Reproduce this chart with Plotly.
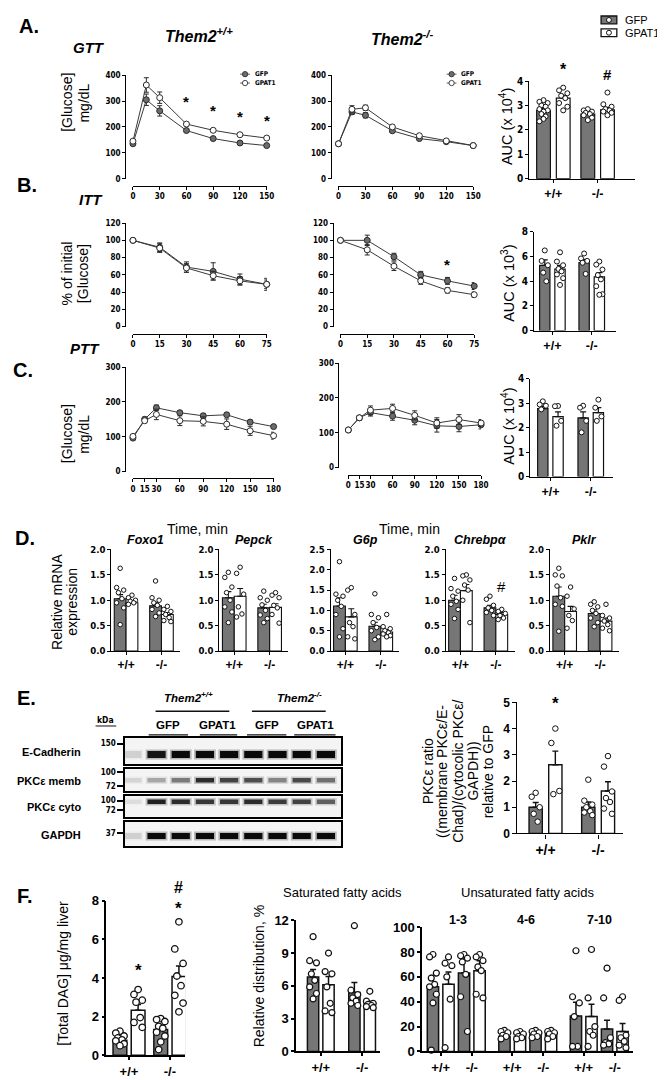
import plotly.graph_objects as go

W, H = 665, 1080
NARROW = "Liberation Sans Narrow, Arial Narrow, DejaVu Sans Condensed, sans-serif"
SANS = "Liberation Sans, Arial, Helvetica, sans-serif"
GRAY = "#767676"
DOTGRAY = "#6c6c6c"
INK = "#111111"

# ===================== DATA =====================
# A. GTT
gtt_time = [0, 15, 30, 60, 90, 120, 150]
gtt_wt_gfp = [135, 305, 262, 186, 155, 138, 128]
gtt_wt_gfp_sem = [6, 22, 20, 5, 5, 5, 5]
gtt_wt_gpat1 = [145, 362, 313, 211, 187, 170, 157]
gtt_wt_gpat1_sem = [6, 28, 22, 6, 5, 5, 5]
gtt_ko_gfp = [135, 258, 245, 185, 155, 143, 128]
gtt_ko_gfp_sem = [4, 10, 10, 6, 5, 4, 4]
gtt_ko_gpat1 = [135, 268, 274, 200, 166, 146, 128]
gtt_ko_gpat1_sem = [4, 14, 10, 6, 5, 4, 4]
gtt_star_t = [60, 90, 120, 150]
gtt_star_y = [297, 263, 240, 225]
gtt_auc_mean = [2.80, 3.30, 2.65, 2.82]
gtt_auc_sem = [0.08, 0.12, 0.05, 0.10]
gtt_auc_dots = [
    [3.22, 3.15, 3.1, 3.0, 2.95, 2.85, 2.8, 2.75, 2.65, 2.55, 2.45, 2.35],
    [3.73, 3.62, 3.5, 3.4, 3.3, 3.1, 2.95, 2.8],
    [2.85, 2.8, 2.75, 2.7, 2.65, 2.6, 2.5, 2.4],
    [3.53, 3.05, 2.95, 2.85, 2.8, 2.75, 2.7, 2.6],
]
gtt_auc_star_y = 4.48
gtt_auc_hash_y = 4.28

# B. ITT
itt_time = [0, 15, 30, 45, 60, 75]
itt_wt_gfp = [100, 92, 69, 64, 55, 49]
itt_wt_gfp_sem = [1, 5, 6, 10, 6, 7]
itt_wt_gpat1 = [100, 91, 68, 59, 53, 49]
itt_wt_gpat1_sem = [1, 5, 5, 5, 5, 5]
itt_ko_gfp = [100, 100, 81, 60, 53, 47]
itt_ko_gfp_sem = [1, 6, 4, 4, 4, 4]
itt_ko_gpat1 = [100, 89, 70, 53, 42, 37]
itt_ko_gpat1_sem = [1, 6, 5, 4, 3, 3]
itt_star_t, itt_star_y = 60, 72
itt_auc_mean = [5.28, 4.99, 5.52, 4.35]
itt_auc_sem = [0.45, 0.3, 0.25, 0.35]
itt_auc_dots = [
    [6.5, 5.65, 5.3, 4.7, 4.0],
    [6.35, 5.6, 5.3, 5.0, 4.8, 4.55, 4.25, 3.7],
    [6.25, 5.85, 5.65, 5.5, 4.6],
    [5.6, 5.35, 4.95, 4.5, 4.15, 3.6, 2.95, 2.9],
]

# C. PTT
ptt_time = [0, 15, 30, 60, 90, 120, 150, 180]
ptt_wt_gfp = [96, 150, 183, 169, 160, 163, 142, 129]
ptt_wt_gfp_sem = [5, 6, 8, 5, 7, 5, 5, 5]
ptt_wt_gpat1 = [101, 146, 164, 146, 144, 136, 117, 103]
ptt_wt_gpat1_sem = [6, 6, 15, 14, 13, 15, 13, 10]
ptt_ko_gfp = [108, 143, 158, 148, 136, 120, 118, 123]
ptt_ko_gfp_sem = [7, 6, 10, 12, 13, 18, 15, 12]
ptt_ko_gpat1 = [108, 143, 165, 170, 150, 128, 138, 128]
ptt_ko_gpat1_sem = [6, 6, 12, 12, 13, 15, 14, 10]
ptt_auc_mean = [2.78, 2.45, 2.4, 2.62]
ptt_auc_sem = [0.1, 0.2, 0.25, 0.2]
ptt_auc_dots = [
    [3.08, 2.95, 2.9, 2.75],
    [2.89, 2.88, 2.28, 2.08],
    [2.9, 2.82, 2.28, 1.81],
    [3.15, 2.82, 2.46, 2.28],
]

# D. mRNA
genes = ["Foxo1", "Pepck", "G6p", "Chrebpα", "Pklr"]
gene_ymax = [2.0, 2.0, 2.5, 2.0, 2.0]
mrna_mean = [
    [1.03, 0.95, 0.89, 0.72],
    [1.05, 1.08, 0.85, 0.86],
    [1.11, 0.84, 0.61, 0.47],
    [1.0, 1.19, 0.85, 0.72],
    [1.08, 0.78, 0.74, 0.59],
]
mrna_sem = [
    [0.08, 0.03, 0.07, 0.04],
    [0.12, 0.15, 0.07, 0.07],
    [0.2, 0.2, 0.1, 0.06],
    [0.1, 0.12, 0.05, 0.04],
    [0.18, 0.1, 0.07, 0.06],
]
mrna_dots = [
    [[1.63, 1.25, 1.2, 1.15, 1.03, 0.95, 0.85, 0.52],
     [1.1, 1.05, 1.0, 0.98, 0.95, 0.92],
     [1.38, 1.05, 1.0, 0.95, 0.9, 0.82, 0.75, 0.68],
     [0.88, 0.82, 0.78, 0.72, 0.66, 0.6, 0.58]],
    [[1.55, 1.45, 1.26, 1.15, 1.0, 0.87, 0.77, 0.56],
     [1.65, 1.53, 1.12, 0.87, 0.73, 0.67],
     [1.18, 1.05, 1.0, 0.91, 0.8, 0.71, 0.64, 0.56],
     [1.15, 1.1, 1.05, 0.9, 0.85, 0.72, 0.55]],
    [[2.2, 1.4, 1.35, 1.25, 1.1, 0.9, 0.55, 0.35],
     [1.56, 1.5, 0.9, 0.7, 0.6, 0.35, 0.3],
     [1.41, 0.9, 0.82, 0.7, 0.58, 0.5, 0.35, 0.28],
     [0.9, 0.6, 0.55, 0.5, 0.45, 0.42, 0.38, 0.35]],
    [[1.43, 1.23, 1.18, 1.08, 0.98, 0.92, 0.82, 0.64],
     [1.5, 1.48, 1.4, 1.3, 1.2, 1.0, 0.56],
     [1.08, 1.02, 0.9, 0.85, 0.8, 0.76, 0.7],
     [0.82, 0.78, 0.74, 0.7, 0.65, 0.62]],
    [[1.63, 1.5, 1.48, 1.28, 1.05, 0.92, 0.88, 0.39],
     [1.26, 1.08, 0.83, 0.7, 0.6, 0.45],
     [0.97, 0.92, 0.87, 0.8, 0.74, 0.65, 0.56, 0.48],
     [0.92, 0.7, 0.65, 0.59, 0.52, 0.45, 0.4]],
]
chrebp_hash_y = 1.28

# E. Western blot (band intensities, lane 0 = ladder)
blot_lanes = [0, 1, 2, 3, 4, 5, 6, 7, 8]
ecad_band = [0.12, 0.95, 1.0, 1.0, 1.0, 1.0, 1.0, 1.0, 1.0]
memb_band = [0.1, 0.3, 0.5, 0.85, 0.75, 0.7, 0.45, 0.72, 0.55]
cyto_band = [0.06, 0.9, 0.85, 0.8, 0.8, 0.85, 0.78, 0.75, 0.62]
gapdh_band = [0.12, 1.0, 1.0, 1.0, 1.0, 1.0, 1.0, 1.0, 1.0]
pkc_mean = [1.0, 2.62, 1.0, 1.62]
pkc_sem = [0.18, 0.52, 0.2, 0.35]
pkc_dots = [
    [1.55, 1.4, 1.0, 0.75, 0.45],
    [4.0, 3.45, 1.62, 1.5],
    [2.05, 1.25, 1.1, 1.0, 0.85, 0.8, 0.7],
    [2.95, 2.55, 1.6, 1.35, 1.2, 0.95, 0.75],
]
pkc_star_y = 4.95

# F. DAG
dag_mean = [0.78, 2.33, 1.33, 4.07]
dag_sem = [0.1, 0.3, 0.18, 0.55]
dag_dots = [
    [1.25, 1.15, 1.0, 0.9, 0.8, 0.75, 0.6, 0.5],
    [3.4, 3.15, 2.85, 2.75, 1.95, 1.7, 1.45],
    [1.9, 1.85, 1.75, 1.5, 1.4, 1.2, 1.0, 0.7, 0.3],
    [6.9, 5.5, 4.75, 4.1, 3.6, 3.1, 2.7, 2.25],
]
dag_star_y = [4.4, 7.6]
dag_hash_y = 8.65
sat_mean = [6.8, 6.1, 5.4, 4.4]
sat_sem = [0.7, 0.75, 0.9, 0.2]
sat_dots = [
    [10.5, 8.3, 8.1, 7.1, 6.5, 5.9, 5.3, 4.8],
    [9.0, 7.3, 7.1, 5.9, 4.4, 3.7, 3.55],
    [11.5, 5.6, 5.2, 4.9, 4.6, 4.4, 4.2],
    [5.5, 4.6, 4.4, 4.3, 4.2, 4.1, 4.0],
]
unsat_groups = ["1-3", "4-6", "7-10"]
unsat_mean = [52, 54, 63, 65, 12, 12, 13.3, 13.9, 28.5, 28, 18, 16]
unsat_sem = [9, 10, 14, 8, 1.5, 1.5, 1.5, 1.5, 11, 10, 7, 6.5]
unsat_dots = [
    [78, 76, 63, 59, 54, 52, 46, 39, 1],
    [76, 71, 69, 60, 42, 3],
    [78, 77, 75, 72, 62, 44, 16],
    [78, 76, 73, 68, 65, 46, 43],
    [17, 16, 15, 13, 12, 10],
    [16, 15, 14, 12, 11, 10],
    [17, 16, 15, 14, 12, 11],
    [17, 16, 15, 14, 12, 10],
    [81, 44, 39, 28, 4, 4],
    [82, 43, 20, 16, 13, 4],
    [67, 43, 11, 7, 6, 5],
    [44, 41, 13, 11, 8, 5, 3],
]
geno = ["+/+", "-/-"]

# ===================== HELPERS =====================
fig = go.Figure()
axes = {}
count = [0]


def font(size, family=SANS, bold=False, italic=False, color="black"):
    return dict(size=size, family=family, color=color,
                weight="bold" if bold else "normal",
                style="italic" if italic else "normal")


def add_axes(x_px, y_px, xr, yr, ylinex=None, xliney=None, xt=None, yt=None,
             xfont=None, yfont=None, xlen=3, ylen=3, lw=1.2, mirror=False):
    count[0] += 1
    s = "" if count[0] == 1 else str(count[0])
    xn, yn = "x" + s, "y" + s
    xd = dict(domain=[x_px[0] / W, x_px[1] / W], range=xr, showgrid=False, zeroline=False,
              showline=True, linecolor="black", linewidth=lw, fixedrange=True, mirror=mirror,
              ticks="outside" if xt is not None else "", ticklen=xlen, tickangle=0,
              tickwidth=lw, tickcolor="black")
    if xt is None:
        xd.update(showticklabels=False)
    else:
        xd.update(tickmode="array", tickvals=xt[0], ticktext=xt[1], tickfont=xfont)
    if xliney is None:
        xd["anchor"] = yn
    else:
        xd.update(anchor="free", position=1 - xliney / H)
    yd = dict(domain=[1 - y_px[1] / H, 1 - y_px[0] / H], range=yr, showgrid=False, zeroline=False,
              showline=True, linecolor="black", linewidth=lw, fixedrange=True, mirror=mirror,
              ticks="outside" if yt is not None else "", ticklen=ylen, tickangle=0,
              tickwidth=lw, tickcolor="black")
    if yt is None:
        yd.update(showticklabels=False)
    else:
        yd.update(tickmode="array", tickvals=yt[0], ticktext=yt[1], tickfont=yfont)
    if ylinex is None:
        yd["anchor"] = xn
    else:
        yd.update(anchor="free", position=ylinex / W)
    axes["xaxis" + s] = xd
    axes["yaxis" + s] = yd
    return xn, yn


def to_paper(xa, ya, x, y):
    xd = axes["xaxis" + xa[1:]]
    yd = axes["yaxis" + ya[1:]]
    px = xd["domain"][0] + (x - xd["range"][0]) / (xd["range"][1] - xd["range"][0]) * (
        xd["domain"][1] - xd["domain"][0])
    py = yd["domain"][0] + (y - yd["range"][0]) / (yd["range"][1] - yd["range"][0]) * (
        yd["domain"][1] - yd["domain"][0])
    return px, py


def text(xp, yp, s, size, bold=False, italic=False, angle=0, family=SANS,
         xanchor="center", yanchor="middle"):
    fig.add_annotation(x=xp / W, y=1 - yp / H, xref="paper", yref="paper", text=s,
                       showarrow=False, font=font(size, family, bold, italic),
                       textangle=angle, xanchor=xanchor, yanchor=yanchor)


def mark(xa, ya, x, y, s, size=15, bold=False):
    px, py = to_paper(xa, ya, x, y)
    fig.add_annotation(x=px, y=py, xref="paper", yref="paper", text=s, showarrow=False,
                       font=font(size, SANS, bold), xanchor="center", yanchor="middle")


def spread(vals, half):
    order = sorted(range(len(vals)), key=lambda i: -vals[i])
    pattern = [0, -1, 1, -0.5, 0.5, -1, 1, 0, -0.5, 0.5]
    offs = [0.0] * len(vals)
    for r, i in enumerate(order):
        offs[i] = pattern[r % len(pattern)] * half
    return offs


TICK_LINE = font(8, NARROW, True)


def line_panel(x_px, y_px, ylinex, xliney, t, yr, xtv, ytv, gfp, gfp_sem, gp, gp_sem):
    xa, ya = add_axes(x_px, y_px, [0, t[-1]], yr, ylinex=ylinex, xliney=xliney,
                      xt=(xtv, [str(v) for v in xtv]), yt=(ytv, [str(v) for v in ytv]),
                      xfont=TICK_LINE, yfont=TICK_LINE, xlen=3, ylen=3, lw=1)
    for vals, sem, fill in [(gfp, gfp_sem, DOTGRAY), (gp, gp_sem, "white")]:
        fig.add_trace(go.Scatter(
            x=t, y=vals, mode="lines+markers", line=dict(color="#3a3a3a", width=1),
            marker=dict(size=6, color=fill, line=dict(color="#2a2a2a", width=1)),
            error_y=dict(type="data", array=sem, color="#2a2a2a", thickness=1, width=2.5),
            xaxis=xa, yaxis=ya, cliponaxis=False, showlegend=False))
    return xa, ya


def bar_panel(x_px, y_px, g0, gstep, wstep, bw, yr, yt, means, sems, dots, xlabels,
              yfont, xfont, nper=2, dot_size=5, dot_lw=1, lw=1.2, tlen=4):
    xr = [(x_px[0] - g0) / gstep, (x_px[1] - g0) / gstep]
    nb = len(means)
    pos = [(i // nper) + ((i % nper) - (nper - 1) / 2) * wstep / gstep for i in range(nb)]
    if nper == 2:
        tickpos = list(range(nb // 2))
    else:
        tickpos = []
        for g in range(nb // nper):
            tickpos += [g - wstep / gstep, g + wstep / gstep]
    xa, ya = add_axes(x_px, y_px, xr, yr, xt=(tickpos, xlabels), yt=yt, xfont=xfont,
                      yfont=yfont, xlen=tlen, ylen=tlen, lw=lw)
    fills = [GRAY if i % 2 == 0 else "white" for i in range(nb)]
    fig.add_trace(go.Bar(
        x=pos, y=means, width=[bw / gstep] * nb,
        marker=dict(color=fills, line=dict(color=INK, width=lw)),
        error_y=dict(type="data", array=sems, arrayminus=[0] * nb, symmetric=False,
                     color=INK, thickness=lw, width=3),
        xaxis=xa, yaxis=ya, showlegend=False))
    for i in range(nb):
        offs = spread(dots[i], 0.3 * bw / gstep)
        fig.add_trace(go.Scatter(
            x=[pos[i] + o for o in offs], y=dots[i], mode="markers",
            marker=dict(size=dot_size, color="white", line=dict(color=INK, width=dot_lw)),
            xaxis=xa, yaxis=ya, cliponaxis=False, showlegend=False))
    return xa, ya, pos


def nums(vals, fmt="{:g}"):
    return (vals, [fmt.format(v) for v in vals])


# ===================== PANEL A =====================
text(18, 11, "A.", 20, bold=True)
text(79, 33, "GTT", 15, bold=True, italic=True)
text(191, 20, "Them2<sup>+/+</sup>", 16, bold=True, italic=True)
text(398, 23, "Them2<sup>-/-</sup>", 16, bold=True, italic=True)
text(57, 89, "[Glucose]", 14, angle=-90)
text(74, 89, "mg/dL", 14, angle=-90)

xa, ya = line_panel((124, 260), (61, 166), 116, 173, gtt_time, [0, 400],
                    [0, 30, 60, 90, 120, 150], [0, 100, 200, 300, 400],
                    gtt_wt_gfp, gtt_wt_gfp_sem, gtt_wt_gpat1, gtt_wt_gpat1_sem)
for t_, y_ in zip(gtt_star_t, gtt_star_y):
    mark(xa, ya, t_, y_, "*", 15, True)
line_panel((333, 470), (61, 166), 325, 173, gtt_time, [0, 400],
           [0, 30, 60, 90, 120, 150], [0, 100, 200, 300, 400],
           gtt_ko_gfp, gtt_ko_gfp_sem, gtt_ko_gpat1, gtt_ko_gpat1_sem)


def mini_legend(xm, ym):
    for dy, fill, lab in [(0, DOTGRAY, "GFP"), (9, "white", "GPAT1")]:
        fig.add_shape(type="line", xref="paper", yref="paper", x0=(xm - 5) / W, x1=(xm + 5) / W,
                      y0=1 - (ym + dy) / H, y1=1 - (ym + dy) / H, line=dict(color="#333", width=0.8))
        fig.add_shape(type="circle", xref="paper", yref="paper", x0=(xm - 2.7) / W, x1=(xm + 2.7) / W,
                      y0=1 - (ym + dy + 2.7) / H, y1=1 - (ym + dy - 2.7) / H,
                      fillcolor=fill, line=dict(color="#333", width=0.9))
        text(xm + 8, ym + dy, lab, 6.5, bold=True, family=NARROW, xanchor="left")


mini_legend(238, 60)
mini_legend(448, 60)

# main legend
for yy, fill, lab in [(1, GRAY, "GFP"), (14, "white", "GPAT1")]:
    fig.add_shape(type="rect", xref="paper", yref="paper", x0=600 / W, x1=616 / W,
                  y0=1 - (yy + 8) / H, y1=1 - yy / H, fillcolor=fill, line=dict(color=INK, width=1.3))
    fig.add_shape(type="circle", xref="paper", yref="paper", x0=605.5 / W, x1=610.5 / W,
                  y0=1 - (yy + 6.5) / H, y1=1 - (yy + 1.5) / H, fillcolor="white",
                  line=dict(color=INK, width=1))
    text(622, yy + 4.5, lab, 11, xanchor="left")

AUC_Y = font(10, NARROW, True)
AUC_X = font(12.5, SANS, True)
xa, ya, pos = bar_panel((527, 634), (67, 166), 551.5, 45, 20, 14, [0, 4], nums([0, 1, 2, 3, 4]),
                        gtt_auc_mean, gtt_auc_sem, gtt_auc_dots, geno, AUC_Y, AUC_X, tlen=3)
mark(xa, ya, pos[1], gtt_auc_star_y, "*", 16, True)
mark(xa, ya, pos[3], gtt_auc_hash_y, "#", 15, True)
text(504, 113, "AUC (x 10<sup>4</sup>)", 14.5, angle=-90)

# ===================== PANEL B =====================
text(16, 172, "B.", 20, bold=True)
text(81, 187, "ITT", 15, bold=True, italic=True)
text(57, 262, "% of initial", 14, angle=-90)
text(74, 262, "[Glucose]", 14, angle=-90)
line_panel((124, 260), (211, 316), 116, 323, itt_time, [0, 120],
           [0, 15, 30, 45, 60, 75], [0, 20, 40, 60, 80, 100, 120],
           itt_wt_gfp, itt_wt_gfp_sem, itt_wt_gpat1, itt_wt_gpat1_sem)
xa, ya = line_panel((335, 471), (211, 316), 327, 323, itt_time, [0, 120],
                    [0, 15, 30, 45, 60, 75], [0, 20, 40, 60, 80, 100, 120],
                    itt_ko_gfp, itt_ko_gfp_sem, itt_ko_gpat1, itt_ko_gpat1_sem)
mark(xa, ya, itt_star_t, itt_star_y, "*", 15, True)
bar_panel((532, 615), (220, 320), 550.5, 40, 15.5, 10.5, [0, 8], nums([0, 2, 4, 6, 8]),
          itt_auc_mean, itt_auc_sem, itt_auc_dots, geno, AUC_Y, AUC_X, tlen=3)
text(506, 272, "AUC (x 10<sup>3</sup>)", 14.5, angle=-90)

# ===================== PANEL C =====================
text(12, 360, "C.", 20, bold=True)
text(75, 338, "PTT", 15, bold=True, italic=True)
text(57, 425, "[Glucose]", 14, angle=-90)
text(74, 425, "mg/dL", 14, angle=-90)
line_panel((124, 267), (357, 463), 116, 470, ptt_time, [0, 300],
           [0, 15, 30, 60, 90, 120, 150, 180], [0, 100, 200, 300],
           ptt_wt_gfp, ptt_wt_gfp_sem, ptt_wt_gpat1, ptt_wt_gpat1_sem)
line_panel((343, 478), (353, 459), 333, 466, ptt_time, [0, 300],
           [0, 15, 30, 60, 90, 120, 150, 180], [0, 100, 200, 300],
           ptt_ko_gfp, ptt_ko_gfp_sem, ptt_ko_gpat1, ptt_ko_gpat1_sem)
text(190, 521, "Time, min", 14)
text(405, 521, "Time, min", 14)
bar_panel((528, 612), (369, 468), 548.5, 41, 15.5, 10.5, [0, 4], nums([0, 1, 2, 3, 4]),
          ptt_auc_mean, ptt_auc_sem, ptt_auc_dots, geno, AUC_Y, AUC_X, tlen=3)
text(506, 417, "AUC (x 10<sup>4</sup>)", 14.5, angle=-90)

# ===================== PANEL D =====================
text(14, 530, "D.", 20, bold=True)
text(47, 595, "Relative mRNA", 14, angle=-90)
text(62, 595, "expression", 14, angle=-90)
D_X0 = [102, 212, 325, 442, 548]
D_Y = font(9.5, NARROW, True)
D_X = font(12, SANS, True)
for gi in range(5):
    x0 = D_X0[gi]
    ymax = gene_ymax[gi]
    if ymax > 2.0:
        ytv = [0, 0.5, 1.0, 1.5, 2.0, 2.5]
    else:
        ytv = [0, 0.5, 1.0, 1.5, 2.0]
    xa, ya, pos = bar_panel((x0, x0 + 70), (542, 645), x0 + 15, 36, 12, 12, [0, ymax],
                            nums(ytv, "{:.1f}"), mrna_mean[gi], mrna_sem[gi], mrna_dots[gi],
                            geno, D_Y, D_X, dot_size=4.5, lw=1.1, tlen=3)
    text(x0 + 35, 532, genes[gi], 12.5, bold=True, italic=True)
    if genes[gi] == "Chrebpα":
        mark(xa, ya, pos[3], chrebp_hash_y, "#", 15)

# ===================== PANEL E =====================
text(16, 693, "E.", 20, bold=True)
text(180, 692, "Them2<sup>+/+</sup>", 11.5, bold=True, italic=True)
text(293, 692, "Them2<sup>-/-</sup>", 11.5, bold=True, italic=True)
for a, b in [(147, 222), (245, 320)]:
    fig.add_shape(type="line", xref="paper", yref="paper", x0=a / W, x1=b / W,
                  y0=1 - 706 / H, y1=1 - 706 / H, line=dict(color=INK, width=1.5))
for xc, lab in zip([160, 210, 260, 310], ["GFP", "GPAT1", "GFP", "GPAT1"]):
    text(xc, 720, lab, 11.5, bold=True)
for a, b in [(140, 180), (192, 230), (240, 280), (288, 330)]:
    fig.add_shape(type="line", xref="paper", yref="paper", x0=a / W, x1=b / W,
                  y0=1 - 730 / H, y1=1 - 730 / H, line=dict(color=INK, width=1.3))
text(96, 715, "kDa", 8.5, bold=True, family=NARROW)
fig.add_shape(type="line", xref="paper", yref="paper", x0=86 / W, x1=107 / W,
              y0=1 - 721 / H, y1=1 - 721 / H, line=dict(color=INK, width=1))

BLOT_L, BLOT_R, LANE1, LSTEP = 116, 336, 148, 24.6
blot_xr = [(BLOT_L - LANE1) / LSTEP + 1, (BLOT_R - LANE1) / LSTEP + 1]
blot_rows = [
    ("E-Cadherin", (733, 760), 0.37, 7, ecad_band, ([0.78], ["150"])),
    ("PKCε memb", (765, 787), 0.5, 4.5, memb_band, ([0.86, 0.23], ["100", "72"])),
    ("PKCε cyto", (792, 813), 0.72, 4.5, cyto_band, ([0.78, 0.32], ["100", "72"])),
    ("GAPDH", (818, 843), 0.42, 6, gapdh_band, ([0.52], ["37"])),
]
for lab, ypx, by, th, band, kda in blot_rows:
    xa, ya = add_axes((BLOT_L, BLOT_R), ypx, blot_xr, [0, 1], xt=None, yt=kda,
                      yfont=font(8, NARROW, True), ylen=6, lw=1.5, mirror=True)
    fig.add_shape(type="rect", xref=xa + " domain", yref=ya + " domain", x0=0, x1=1, y0=0, y1=1,
                  fillcolor="#f4f4f4", line_width=0, layer="below")
    halo = [f"rgba(40,40,40,{0.3 * v:.3f})" for v in band]
    core = [f"rgb({int(235 - 225 * v)},{int(235 - 225 * v)},{int(235 - 225 * v)})" for v in band]
    fig.add_trace(go.Scatter(x=blot_lanes, y=[by] * len(band), mode="markers",
                             marker=dict(symbol="line-ew", size=15.5,
                                         line=dict(color=halo, width=th + 3)),
                             xaxis=xa, yaxis=ya, showlegend=False))
    fig.add_trace(go.Scatter(x=blot_lanes, y=[by] * len(band), mode="markers",
                             marker=dict(symbol="line-ew", size=13,
                                         line=dict(color=core, width=th)),
                             xaxis=xa, yaxis=ya, showlegend=False))
    text(73, (ypx[0] + ypx[1]) / 2 + 1, lab, 11, bold=True, xanchor="right")

E_Y = font(12, SANS, True)
E_X = font(14, SANS, True)
xa, ya, pos = bar_panel((515, 622), (697, 830), 543.5, 53.5, 20, 13.5, [0, 5],
                        nums([0, 1, 2, 3, 4, 5]), pkc_mean, pkc_sem, pkc_dots, geno,
                        E_Y, E_X, dot_size=5.5, lw=1.4)
mark(xa, ya, pos[1], pkc_star_y, "*", 17, True)
for xc, line in zip([424, 439, 455, 470, 485],
                    ["PKCε ratio", "((membrane PKCε/E-", "Chad)/(cytocolic PKCε/", "GAPDH))",
                     "relative to GFP"]):
    text(xc, 767, line, 14, angle=-90)

# ===================== PANEL F =====================
text(14, 893, "F.", 20, bold=True)
F_Y = font(13, SANS, True)
F_X = font(13, SANS, True)
xa, ya, pos = bar_panel((97, 177), (898, 1055), 120, 41.5, 18.5, 14, [0, 8], nums([0, 2, 4, 6, 8]),
                        dag_mean, dag_sem, dag_dots, geno, F_Y, F_X, dot_size=6.5, dot_lw=1.3,
                        lw=1.5, tlen=3)
mark(xa, ya, pos[1], dag_star_y[0], "*", 17, True)
mark(xa, ya, pos[3], dag_star_y[1], "*", 17, True)
mark(xa, ya, pos[3], dag_hash_y, "#", 16, True)
text(52, 972, "[Total DAG] μg/mg liver", 14, angle=-90)

bar_panel((290, 375), (918, 1051), 315, 42, 15.7, 11.5, [0, 12], nums([0, 3, 6, 9, 12]),
          sat_mean, sat_sem, sat_dots, geno, F_Y, F_X, dot_size=6, dot_lw=1.2, lw=1.5, tlen=3)
text(253, 975, "Relative distribution, %", 14, angle=-90)
text(337, 890, "Saturated fatty acids", 13)

bar_panel((418, 632), (925, 1051), 452.75, 72.7, 15.8, 11.5, [0, 100],
          nums([0, 20, 40, 60, 80, 100]), unsat_mean, unsat_sem, unsat_dots, geno * 3,
          F_Y, F_X, nper=4, dot_size=6, dot_lw=1.2, lw=1.5, tlen=3)
text(525, 890, "Unsaturated fatty acids", 13)
for xc, lab in zip([455, 524, 598], unsat_groups):
    text(xc, 918, lab, 12.5, bold=True)

fig.update_layout(width=W, height=H, margin=dict(l=0, r=0, t=0, b=0),
                  paper_bgcolor="white", plot_bgcolor="white", showlegend=False,
                  font=dict(family=SANS, color="black"), **axes)
fig.write_html("out.html")
